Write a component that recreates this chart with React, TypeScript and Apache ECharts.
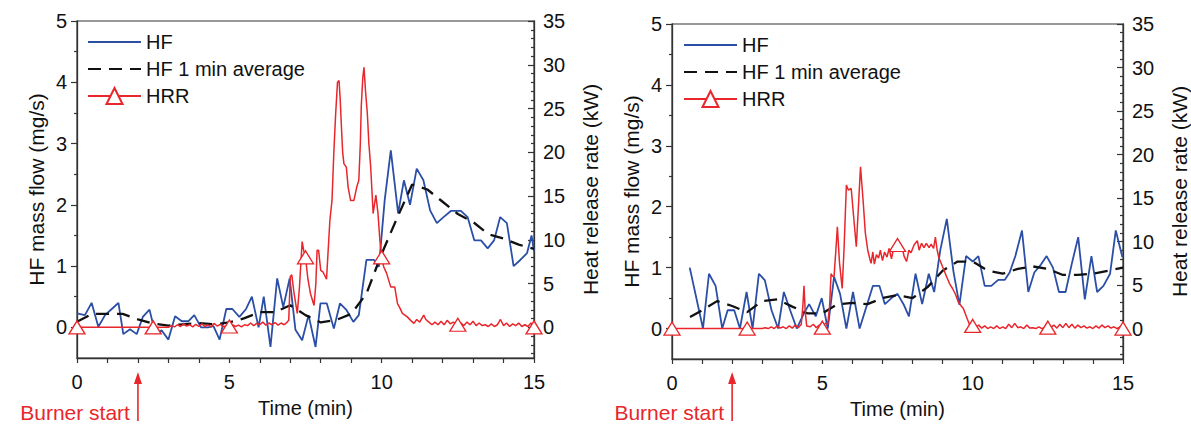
import React, { useEffect, useRef } from 'react';
import * as echarts from 'echarts';

const FONT = '"Liberation Sans", Arial, Helvetica, sans-serif';
const HF_COLOR = '#2b4fa6';
const HRR_COLOR = '#e8262b';
const AVG_COLOR = '#111111';
const AXIS_COLOR = '#333333';

// ---- axes / ticks ----
const timeMin = 0;
const timeMax = 15;
const hfTicks = [0, 1, 2, 3, 4, 5];
const hfMinorTicks = [0.5, 1.5, 2.5, 3.5, 4.5];
const hrrTicks = [0, 5, 10, 15, 20, 25, 30, 35];
const hrrMinorTicks = [-3, -2, -1, 1, 2, 3, 4, 6, 7, 8, 9, 11, 12, 13, 14, 16, 17, 18, 19, 21, 22, 23, 24, 26, 27, 28, 29, 31, 32, 33, 34];
const markerTimes = [0, 2.5, 5, 7.5, 10, 12.5, 15];
const burnerStart = 2;
const legendNames = ['HF', 'HF 1 min average', 'HRR'];

// ---- left panel data: [time (min), value] ----
const hfLeft = [
  [0, 0.23], [0.26, 0.2], [0.48, 0.4], [0.7, 0.01], [0.92, 0.2], [1.14, 0.3], [1.36, 0.4], [1.52, -0.11],
  [1.74, -0.03], [1.96, -0.11], [2.16, 0.17], [2.38, 0.29], [2.57, -0.1], [2.78, -0.05], [3.0, -0.2],
  [3.22, 0.18], [3.44, 0.1], [3.66, 0.1], [3.85, 0.2], [4.07, 0], [4.29, 0], [4.48, 0.02], [4.68, -0.2],
  [4.9, 0.3], [5.1, 0.3], [5.33, 0.17], [5.55, 0.3], [5.74, 0.5], [5.96, 0], [6.13, 0.5], [6.35, -0.32],
  [6.57, 0.8], [6.77, 0.33], [6.98, 0.8], [7.17, -0.04], [7.39, -0.21], [7.6, 0.2], [7.83, -0.32],
  [7.99, 0.39], [8.2, 0.39], [8.43, -0.02], [8.63, 0.39], [8.85, 0.28], [9.07, 0.09], [9.25, 0.2],
  [9.5, 1.1], [9.75, 1.1], [9.91, 0.99], [10.1, 2.08], [10.3, 2.89], [10.54, 1.86], [10.73, 2.4],
  [10.93, 2.0], [11.15, 2.59], [11.37, 2.4], [11.59, 1.91], [11.81, 1.7], [12.03, 1.8], [12.27, 1.9],
  [12.6, 1.9], [12.82, 1.8], [13.04, 1.42], [13.26, 1.42], [13.48, 1.29], [13.69, 1.42], [13.89, 1.8],
  [14.11, 1.7], [14.33, 1.0], [14.55, 1.1], [14.77, 1.21], [14.92, 1.5], [15.0, 1.24],
];

const avgLeft = [
  [0, 0.09], [0.5, 0.22], [1, 0.22], [1.5, 0.22], [2, 0.13], [2.5, 0.06], [3, 0.03], [3.5, 0.05],
  [4, 0.07], [4.5, 0.05], [5, 0.08], [5.5, 0.15], [6, 0.25], [6.5, 0.25], [7, 0.36], [7.5, 0.2],
  [8, 0.08], [8.5, 0.12], [9, 0.22], [9.5, 0.55], [10, 1.2], [10.5, 1.78], [11, 2.33], [11.5, 2.25],
  [12, 2.05], [12.5, 1.85], [13, 1.72], [13.5, 1.52], [14, 1.45], [14.5, 1.35], [15, 1.28],
];

const hrrLeft = [
  [0, 0], [2.5, 0], [3.0, 0], [3.1, 0.2], [3.2, 0.05], [3.3, 0.3], [3.4, 0.1], [3.5, 0.4], [3.6, 0.15],
  [3.7, 0.3], [3.8, 0.05], [3.9, 0.35], [4.0, 0.1], [4.1, 0.4], [4.2, 0.1], [4.3, 0.3], [4.4, 0.05],
  [4.5, 0.45], [4.6, 0.15], [4.7, 0.35], [4.8, 0.05], [4.9, 0.2], [5, 0.1], [5.1, 0.3], [5.2, 0.1],
  [5.3, 0.25], [5.4, 0.05], [5.5, 0.3], [5.6, 0.2], [5.7, 0.5], [5.8, 0.2], [5.9, 0.45], [6.0, 0.3],
  [6.1, 0.6], [6.2, 0.25], [6.3, 0.5], [6.4, 0.3], [6.5, 0.55], [6.6, 0.25], [6.7, 0.5], [6.8, 0.3],
  [6.9, 0.6], [6.95, 0.8], [7.0, 5.8], [7.05, 6.0], [7.12, 4.0], [7.23, 1.6], [7.3, 4.5], [7.39, 9.8],
  [7.44, 8.8], [7.5, 8.0], [7.58, 5.5], [7.66, 3.9], [7.78, 2.5], [7.84, 5.0], [7.88, 8.8], [7.93, 8.8],
  [8.0, 6.5], [8.08, 6.3], [8.19, 5.5], [8.3, 12.2], [8.37, 14.5], [8.43, 20], [8.49, 24.4], [8.55, 28],
  [8.6, 28.2], [8.64, 26], [8.67, 23.6], [8.72, 20], [8.76, 18.7], [8.84, 18.3], [8.9, 16], [8.98, 14.5],
  [9.09, 14.5], [9.18, 16], [9.25, 16.8], [9.3, 21], [9.33, 25.2], [9.38, 28.5], [9.42, 29.7], [9.47, 27],
  [9.53, 24.4], [9.58, 21], [9.64, 18.3], [9.72, 13], [9.81, 15.1], [9.88, 13], [9.94, 10], [10, 8.0],
  [10.07, 6.9], [10.16, 6.2], [10.3, 4.6], [10.43, 4.6], [10.52, 2.7], [10.6, 2.2], [10.68, 1.6],
  [10.84, 1.2], [10.95, 0.8], [11.06, 0.45], [11.15, 0.9], [11.25, 0.6], [11.38, 1.4], [11.45, 0.9],
  [11.55, 0.6], [11.65, 0.3], [11.75, 0.6], [11.85, 0.3], [11.95, 0.7], [12.05, 0.3], [12.15, 0.8],
  [12.25, 0.4], [12.35, 0.6], [12.5, 0.3], [12.6, 0.5], [12.7, 0.2], [12.8, 0.6], [12.9, 0.3], [13.0, 0.7],
  [13.1, 0.2], [13.2, 0.5], [13.3, 0.2], [13.4, 0.3], [13.5, 0.1], [13.6, 0.4], [13.7, 0.1], [13.8, 0.3],
  [13.9, 0.9], [14.0, 0.2], [14.1, 0.5], [14.2, 0.1], [14.3, 0.4], [14.4, 0.2], [14.5, 0.5], [14.6, 0.1],
  [14.7, 0.3], [14.8, 0.1], [14.9, 0.5], [15, 0],
];

// ---- right panel data ----
const hfRight = [
  [0.59, 1.0], [1.03, 0], [1.23, 0.9], [1.45, 0.7], [1.67, 0], [1.85, 0.3], [2.07, 0.3], [2.26, 0],
  [2.48, 0.6], [2.68, 0], [2.89, 0.9], [3.09, 0.79], [3.31, 0.3], [3.53, 0], [3.72, 0.6], [3.93, 0.3],
  [4.15, 0], [4.38, 0.24], [4.56, 0.4], [4.78, 0.2], [4.98, 0.5], [5.18, 0], [5.39, 0.85], [5.59, 0.57],
  [5.8, 0], [6.02, 0.6], [6.24, 0], [6.68, 0.7], [6.9, 0.7], [7.08, 0.4], [7.3, 0.5], [7.5, 0.57],
  [7.7, 0.4], [7.88, 0.2], [8.1, 0.9], [8.32, 0.4], [8.54, 0.9], [8.72, 0.6], [8.92, 1.28], [9.14, 1.8],
  [9.36, 0.94], [9.56, 0.39], [9.78, 1.19], [10.0, 1.1], [10.19, 1.19], [10.4, 0.7], [10.62, 0.7],
  [10.85, 0.8], [11.07, 0.8], [11.23, 0.92], [11.42, 1.19], [11.64, 1.61], [11.85, 0.6], [12.05, 0.92],
  [12.27, 1.05], [12.46, 1.19], [12.67, 1.0], [12.87, 0.6], [13.09, 0.6], [13.29, 1.05], [13.51, 1.5],
  [13.73, 0.48], [13.95, 1.19], [14.14, 0.6], [14.35, 0.7], [14.57, 0.9], [14.76, 1.61], [14.98, 1.17],
];

const avgRight = [
  [0.6, 0.19], [1.0, 0.3], [1.5, 0.45], [2.0, 0.37], [2.5, 0.27], [3.0, 0.45], [3.5, 0.48], [4.0, 0.36],
  [4.5, 0.25], [5.0, 0.25], [5.5, 0.4], [6.0, 0.42], [6.5, 0.4], [7.0, 0.5], [7.5, 0.55], [8.0, 0.5],
  [8.5, 0.68], [9.0, 0.95], [9.5, 1.1], [10.0, 1.1], [10.5, 0.95], [11.0, 0.9], [11.5, 0.98],
  [12.0, 1.02], [12.5, 0.98], [13.0, 0.88], [13.5, 0.88], [14.0, 0.9], [14.5, 0.95], [15.0, 1.0],
];

const hrrRight = [
  [0, 0], [2.5, 0], [3.0, 0], [3.1, 0.1], [3.2, 0], [3.3, 0.2], [3.4, 0], [3.5, 0.3], [3.6, 0.05],
  [3.7, 0.2], [3.8, 0], [3.9, 0.3], [4.0, 0.05], [4.1, 0.4], [4.2, 0.1], [4.3, 0.5], [4.35, 2.5],
  [4.39, 4.9], [4.43, 2.0], [4.48, 0.3], [4.6, 0.2], [4.7, 0.5], [4.8, 0.1], [4.9, 0.4], [5, 0.1],
  [5.1, 0.6], [5.18, 0.5], [5.24, 2.5], [5.29, 6.3], [5.34, 6.0], [5.39, 6.0], [5.45, 9.0], [5.5, 11.7],
  [5.57, 7.6], [5.66, 4.6], [5.72, 9], [5.8, 16.5], [5.87, 15.9], [5.96, 16.1], [6.05, 12.5],
  [6.13, 9.4], [6.2, 14], [6.27, 18.6], [6.35, 15], [6.43, 11], [6.51, 9.0], [6.58, 8.0], [6.62, 7.5],
  [6.68, 8.8], [6.73, 7.4], [6.8, 8.5], [6.87, 8.1], [6.93, 9.0], [7.0, 7.8], [7.07, 8.8], [7.15, 8.2],
  [7.22, 9.2], [7.3, 8.0], [7.38, 9.4], [7.44, 9.0], [7.5, 9.6], [7.58, 9.2], [7.65, 9.4], [7.72, 8.3],
  [7.8, 7.7], [7.88, 9.0], [7.95, 8.7], [8.05, 9.6], [8.16, 10.1], [8.22, 9.0], [8.3, 9.8], [8.38, 9.3],
  [8.46, 9.8], [8.55, 9.3], [8.62, 9.7], [8.7, 9.2], [8.76, 10.5], [8.82, 9.0], [8.87, 8.2], [9.0, 7.1],
  [9.14, 5.9], [9.24, 5.1], [9.33, 4.6], [9.42, 4.0], [9.53, 3.0], [9.62, 2.6], [9.69, 2.3], [9.8, 1.3],
  [9.9, 0.4], [10, 0.3], [10.1, 0.1], [10.2, 0.4], [10.3, 0.05], [10.4, 0.3], [10.5, 0], [10.6, 0.2],
  [10.7, 0], [10.8, 0.3], [10.9, 0], [11.0, 0.2], [11.1, 0], [11.2, 0.5], [11.3, 0.1], [11.4, 0.6],
  [11.5, 0.1], [11.6, 0.2], [11.7, 0], [11.8, 0.4], [11.9, 0.05], [12.0, 0.1], [12.1, 0], [12.2, 0.2],
  [12.3, 0], [12.4, 0.1], [12.5, 0.1], [12.6, 0.1], [12.7, 0.4], [12.8, 0.05], [12.9, 0.5], [13.0, 0.1],
  [13.1, 0.6], [13.2, 0.1], [13.3, 0.5], [13.4, 0.05], [13.5, 0.4], [13.6, 0.1], [13.7, 0.3], [13.8, 0.05],
  [13.9, 0.2], [14.0, 0], [14.1, 0.3], [14.2, 0.05], [14.3, 0.4], [14.4, 0.1], [14.5, 0.3], [14.6, 0.05],
  [14.7, 0.2], [14.8, 0], [14.9, 0.2], [15, 0],
];

const panels = [
  { hf: hfLeft, avg: avgLeft, hrr: hrrLeft },
  { hf: hfRight, avg: avgRight, hrr: hrrRight },
];

const grids = [
  { left: 77, top: 21, width: 457, height: 337 },
  { left: 672, top: 24, width: 456, height: 335 },
];
const legendPos = [
  { left: 82, top: 27 },
  { left: 678, top: 30 },
];

const textBase = { color: '#111', fontFamily: FONT };

export default function App() {
  const ref = useRef<HTMLDivElement>(null);
  useEffect(() => {
    if (!ref.current) return;
    const chart = echarts.init(ref.current, undefined, { renderer: 'svg' });

    const xAxis = panels.map((_, i) => ({
      type: 'value',
      gridIndex: i,
      min: timeMin,
      max: timeMax,
      interval: 5,
      axisLine: { show: true, onZero: false, lineStyle: { color: AXIS_COLOR, width: 1.3 } },
      axisTick: { show: true, length: 5, lineStyle: { color: AXIS_COLOR, width: 1.2 } },
      minorTick: { show: true, splitNumber: 5, length: 5, lineStyle: { color: AXIS_COLOR, width: 1.2 } },
      axisLabel: { ...textBase, fontSize: 20, margin: 14 },
      splitLine: { show: false },
      minorSplitLine: { show: false },
      name: 'Time (min)',
      nameLocation: 'middle',
      nameGap: 40,
      nameTextStyle: { ...textBase, fontSize: 20 },
    }));

    const yAxis: any[] = [];
    panels.forEach((_, i) => {
      yAxis.push({
        type: 'value', gridIndex: i, position: 'left', min: -0.5, max: 5,
        axisLine: { show: true, onZero: false, lineStyle: { color: AXIS_COLOR, width: 1.3 } },
        axisTick: { show: true, length: 6, customValues: hfTicks, lineStyle: { color: AXIS_COLOR, width: 1.2 } },
        axisLabel: { ...textBase, fontSize: 20, margin: 10, customValues: hfTicks },
        splitLine: { show: false },
        name: 'HF mass flow (mg/s)', nameLocation: 'middle', nameGap: 30, nameRotate: 90,
        nameTextStyle: { ...textBase, fontSize: 21 },
      });
      yAxis.push({
        type: 'value', gridIndex: i, position: 'right', min: -3.5, max: 35,
        axisLine: { show: true, onZero: false, lineStyle: { color: AXIS_COLOR, width: 1.3 } },
        axisTick: { show: true, inside: true, length: 6, customValues: hrrTicks, lineStyle: { color: AXIS_COLOR, width: 1.2 } },
        axisLabel: { ...textBase, fontSize: 20, margin: 9, customValues: hrrTicks },
        splitLine: { show: false },
        name: 'Heat release rate (kW)', nameLocation: 'middle', nameGap: 46, nameRotate: 90,
        nameTextStyle: { ...textBase, fontSize: 21 },
      });
      yAxis.push({
        type: 'value', gridIndex: i, position: 'left', min: -0.5, max: 5,
        axisLine: { show: false, onZero: false },
        axisTick: { show: true, length: 3, customValues: hfMinorTicks, lineStyle: { color: AXIS_COLOR, width: 1.2 } },
        axisLabel: { show: false },
        splitLine: { show: false },
      });
      yAxis.push({
        type: 'value', gridIndex: i, position: 'right', min: -3.5, max: 35,
        axisLine: { show: false, onZero: false },
        axisTick: { show: true, inside: true, length: 3, customValues: hrrMinorTicks, lineStyle: { color: AXIS_COLOR, width: 1.2 } },
        axisLabel: { show: false },
        splitLine: { show: false },
      });
    });

    const series: any[] = [];
    panels.forEach((p, i) => {
      series.push({
        type: 'line', name: 'HF', xAxisIndex: i, yAxisIndex: 4 * i, data: p.hf,
        symbol: 'none', lineStyle: { color: HF_COLOR, width: 1.8 }, itemStyle: { color: HF_COLOR },
        silent: true, z: 2,
      });
      series.push({
        type: 'line', name: 'HF 1 min average', xAxisIndex: i, yAxisIndex: 4 * i, data: p.avg,
        symbol: 'none', lineStyle: { color: AVG_COLOR, width: 2.3, type: [13, 8] }, itemStyle: { color: AVG_COLOR },
        silent: true, z: 3,
      });
      series.push({
        type: 'line', name: 'HRR', xAxisIndex: i, yAxisIndex: 4 * i + 1,
        data: p.hrr.map(([t, v]) => (markerTimes.includes(t) ? { value: [t, v] } : { value: [t, v], symbol: 'none' })),
        symbol: 'triangle', symbolSize: [16, 13], showSymbol: true,
        lineStyle: { color: HRR_COLOR, width: 1.5 },
        itemStyle: { color: '#ffffff', borderColor: HRR_COLOR, borderWidth: 1.3 },
        silent: true, z: 4,
      });
    });

    const legendData = legendNames.map((name, k) =>
      k < 2 ? { name, itemStyle: { opacity: 0 } } : { name }
    );

    chart.setOption({
      animation: false,
      backgroundColor: '#ffffff',
      grid: grids.map((g) => ({ ...g, show: true, borderColor: AXIS_COLOR, borderWidth: 1.2, backgroundColor: 'transparent', containLabel: false })),
      xAxis,
      yAxis,
      legend: legendPos.map((pos) => ({
        ...pos, orient: 'vertical', itemWidth: 53, itemHeight: 20, itemGap: 7,
        data: legendData, selectedMode: false,
        textStyle: { ...textBase, fontSize: 20 },
      })),
      series,
    });

    const graphic: any[] = [];
    panels.forEach((_, i) => {
      const x = chart.convertToPixel({ xAxisIndex: i } as any, burnerStart) as number;
      graphic.push({
        type: 'line', shape: { x1: x, y1: 421, x2: x, y2: 380 },
        style: { stroke: HRR_COLOR, lineWidth: 1.6 }, silent: true,
      });
      graphic.push({
        type: 'polygon', shape: { points: [[x - 4, 384], [x + 4, 384], [x, 372]] },
        style: { fill: HRR_COLOR }, silent: true,
      });
      graphic.push({
        type: 'text', x: x - 8, y: 412,
        style: { text: 'Burner start', fill: HRR_COLOR, fontSize: 21, fontFamily: FONT, textAlign: 'right', textVerticalAlign: 'middle' },
        silent: true,
      });
    });
    chart.setOption({ graphic });

    return () => chart.dispose();
  }, []);

  return <div ref={ref} style={{ position: 'fixed', left: 0, top: 0, width: 1191, height: 426, background: '#fff' }} />;
}
